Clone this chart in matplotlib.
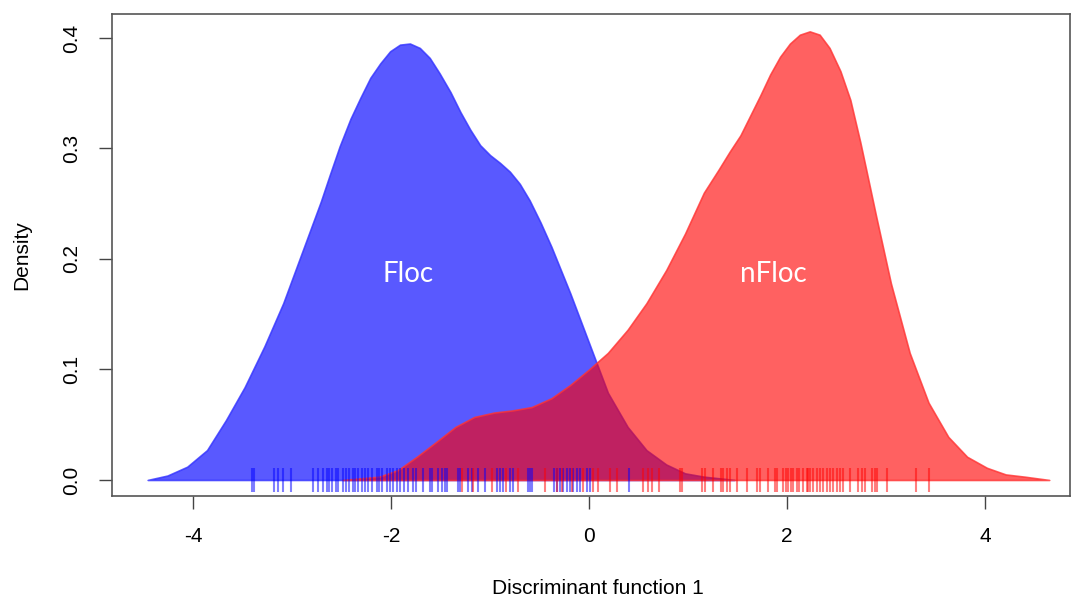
import numpy as np
import matplotlib
matplotlib.use('Agg')
from matplotlib import pyplot as plt

# density curve for Floc
floc_x = [-4.46, -4.26, -4.06, -3.86, -3.67, -3.48, -3.28, -3.09, -2.90, -2.71,
          -2.62, -2.52, -2.41, -2.31, -2.21, -2.11, -2.01, -1.91, -1.81, -1.71,
          -1.61, -1.51, -1.40, -1.30, -1.20, -1.10, -1.00, -0.90, -0.80, -0.70,
          -0.60, -0.49, -0.38, -0.19, 0.00, 0.19, 0.39, 0.58, 0.78, 0.97, 1.16, 1.47]
floc_y = [0.000, 0.004, 0.012, 0.027, 0.054, 0.084, 0.121, 0.160, 0.206, 0.252,
          0.276, 0.302, 0.327, 0.346, 0.364, 0.377, 0.388, 0.394, 0.395, 0.391,
          0.382, 0.368, 0.351, 0.333, 0.317, 0.303, 0.294, 0.287, 0.279, 0.268,
          0.253, 0.233, 0.211, 0.169, 0.124, 0.079, 0.048, 0.027, 0.014, 0.006, 0.003, 0.000]

# density curve for nFloc
nfloc_x = [-2.49, -2.12, -1.93, -1.74, -1.55, -1.35, -1.16, -0.96, -0.77, -0.58,
           -0.38, -0.19, 0.00, 0.19, 0.39, 0.58, 0.78, 0.97, 1.16, 1.31, 1.42,
           1.53, 1.63, 1.73, 1.83, 1.93, 2.03, 2.13, 2.23, 2.33, 2.43, 2.54,
           2.64, 2.74, 2.80, 2.90, 3.05, 3.24, 3.43, 3.63, 3.82, 4.02, 4.21, 4.40, 4.65]
nfloc_y = [0.000, 0.003, 0.009, 0.021, 0.034, 0.048, 0.057, 0.061, 0.063, 0.066,
           0.074, 0.086, 0.100, 0.115, 0.136, 0.160, 0.190, 0.223, 0.260, 0.281, 0.297,
           0.312, 0.330, 0.348, 0.367, 0.383, 0.395, 0.403, 0.406, 0.403, 0.391, 0.370,
           0.344, 0.306, 0.281, 0.239, 0.178, 0.115, 0.070, 0.039, 0.021, 0.011, 0.005, 0.003, 0.000]

# rug (individual scores)
floc_rug = [-3.41, -3.39, -3.18, -3.14, -3.09, -3.01, -2.79, -2.74, -2.69, -2.65,
            -2.63, -2.60, -2.56, -2.54, -2.49, -2.46, -2.43, -2.39, -2.36, -2.33,
            -2.29, -2.26, -2.23, -2.19, -2.14, -2.12, -2.09, -2.04, -2.01, -1.98,
            -1.94, -1.91, -1.87, -1.83, -1.78, -1.75, -1.68, -1.61, -1.59, -1.53,
            -1.49, -1.46, -1.44, -1.32, -1.30, -1.22, -1.18, -1.12, -1.05, -0.93,
            -0.90, -0.87, -0.80, -0.77, -0.62, -0.60, -0.58, -0.35, -0.32, -0.29,
            -0.26, -0.22, -0.19, -0.16, -0.12, -0.09, -0.02, 0.01, 0.40]
nfloc_rug = [-1.28, -1.17, -0.98, -0.84, -0.72, -0.44, -0.32, -0.27, -0.17, -0.06,
             0.04, 0.09, 0.21, 0.28, 0.55, 0.60, 0.64, 0.71, 0.92, 0.94, 1.14, 1.17,
             1.25, 1.33, 1.35, 1.39, 1.42, 1.49, 1.60, 1.70, 1.73, 1.81, 1.88, 1.90,
             1.96, 1.99, 2.01, 2.04, 2.06, 2.10, 2.12, 2.16, 2.20, 2.21, 2.23, 2.26,
             2.30, 2.33, 2.36, 2.40, 2.43, 2.46, 2.51, 2.54, 2.57, 2.64, 2.72, 2.76,
             2.79, 2.86, 2.89, 2.91, 3.01, 3.30, 3.44]

xticks = [-4, -2, 0, 2, 4]
yticks = [0.0, 0.1, 0.2, 0.3, 0.4]

plt.rcParams['font.family'] = ['Liberation Sans', 'DejaVu Sans']

fig = plt.figure(figsize=(10.74, 5.97), dpi=100)
ax = fig.add_axes([0.1043, 0.1692, 0.8920, 0.8073])

ax.fill_between(floc_x, floc_y, 0, facecolor=(0, 0, 1, 0.65), edgecolor=(0.2, 0.2, 1.0, 0.8), lw=1.2)
ax.fill_between(nfloc_x, nfloc_y, 0, facecolor=(1, 0, 0, 0.62), edgecolor=(1.0, 0.2, 0.2, 0.8), lw=1.2)

# rug marks
ax.vlines(floc_rug, -0.011, 0.011, colors='blue', alpha=0.5, lw=1.5)
ax.vlines(nfloc_rug, -0.011, 0.011, colors='red', alpha=0.5, lw=1.5)

ax.text(-1.83, 0.186, 'Floc', color='white', fontsize=20, family=['Lato', 'DejaVu Sans'], ha='center', va='center')
ax.text(1.86, 0.186, 'nFloc', color='white', fontsize=20, family=['Lato', 'DejaVu Sans'], ha='center', va='center')

ax.set_xlim(-4.82, 4.86)
ax.set_ylim(-0.0145, 0.4217)
ax.set_xticks(xticks)
ax.set_xticklabels(['-4', '-2', '0', '2', '4'])
ax.set_yticks(yticks)
ax.set_yticklabels(['0.0', '0.1', '0.2', '0.3', '0.4'], rotation=90, va='center')
ax.tick_params(direction='out', length=9.5, width=1, color='#444444', labelsize=15, pad=13)

for s in ax.spines.values():
    s.set_color('#555555')
    s.set_linewidth(1.2)

fig.text(22/1074, 1-255/597, 'Density', rotation=90, ha='center', va='center', fontsize=15)
fig.text(598/1074, 1-588/597, 'Discriminant function 1', ha='center', va='center', fontsize=15)

fig.savefig('out.png', dpi=100)
